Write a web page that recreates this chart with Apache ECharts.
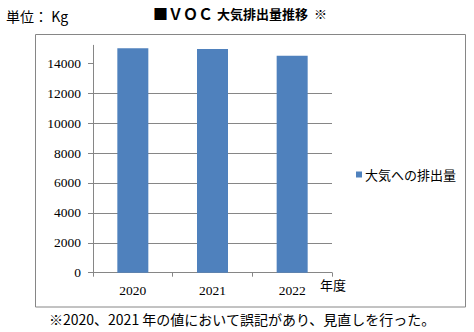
<!DOCTYPE html>
<html>
<head>
<meta charset="utf-8">
<script src="https://cdn.jsdelivr.net/npm/echarts@6/dist/echarts.min.js"></script>
<style>
html,body{margin:0;padding:0;background:#fff;}
#c{width:474px;height:332px;}
</style>
</head>
<body>
<div id="c"></div>
<script>
const categories = ['2020', '2021', '2022'];
const seriesName = '大気への排出量';
const values = [15000, 14950, 14500];
const yTickValues = [0, 2000, 4000, 6000, 8000, 10000, 12000, 14000];
const titleParts = ['■ＶＯＣ', '大気排出量推移', '※'];
const unitText = '単位： Kg';
const xAxisNameText = '年度';
const noteText = '※2020、2021 年の値において誤記があり、見直しを行った。';

const gray = '#868686';
const cjk = '"Noto Sans CJK JP", "Noto Sans", sans-serif';
const serif = '"Liberation Serif", serif';

const chart = echarts.init(document.getElementById('c'), null, {renderer: 'svg'});
chart.setOption({
  animation: false,
  backgroundColor: '#fff',
  grid: {left: 93, right: 142, top: 45.3, bottom: 59.3, containLabel: false},
  legend: {
    show: true,
    left: 351, top: 163,
    icon: 'rect', itemWidth: 6, itemHeight: 6, itemGap: 4,
    textStyle: {fontFamily: cjk, fontSize: 13, color: '#000', padding: [0, 0, 0, -2]},
    data: [seriesName]
  },
  xAxis: {
    type: 'category',
    data: categories,
    axisLine: {show: true, lineStyle: {color: gray, width: 1}},
    axisTick: {show: true, alignWithLabel: false, length: 4, lineStyle: {color: gray}},
    axisLabel: {fontFamily: serif, fontSize: 13.5, fontWeight: 'normal', color: '#000', margin: 11}
  },
  yAxis: {
    type: 'value',
    min: 0, max: 15200, interval: 2000,
    axisLine: {show: true, lineStyle: {color: gray, width: 1}},
    axisTick: {show: true, length: 5, lineStyle: {color: gray}, customValues: yTickValues},
    axisLabel: {
      fontFamily: serif, fontSize: 13.5, fontWeight: 'normal', color: '#000', margin: 12,
      customValues: yTickValues,
      formatter: function (v) { return String(v); }
    },
    splitLine: {show: true, showMaxLine: false, lineStyle: {color: gray, width: 1}}
  },
  series: [{
    name: seriesName,
    type: 'bar',
    data: values,
    barWidth: 31,
    itemStyle: {color: '#4F81BD'}
  }],
  graphic: [
    {type: 'rect', shape: {x: 35.5, y: 34.5, width: 430, height: 272.5}, style: {fill: 'none', stroke: gray, lineWidth: 1}, silent: true},
    {type: 'text', left: 153, top: 6, style: {
      text: '{a|' + titleParts[0] + '}{b|' + titleParts[1] + '}{c|' + titleParts[2] + '}',
      rich: {
        a: {fontFamily: cjk, fontSize: 15, fontWeight: 'bold', width: 64, fill: '#000'},
        b: {fontFamily: cjk, fontSize: 13, fontWeight: 'bold', width: 97, fill: '#000'},
        c: {fontFamily: cjk, fontSize: 13, fontWeight: 'normal', fill: '#000'}
      }
    }},
    {type: 'text', left: 6, top: 9, style: {text: unitText, font: '14px ' + cjk, fill: '#000'}},
    {type: 'text', left: 320, top: 278, style: {text: xAxisNameText, font: '13px ' + cjk, fill: '#000'}},
    {type: 'text', left: 49, top: 312, style: {text: noteText, font: '14px ' + cjk, fill: '#000'}}
  ]
});
</script>
</body>
</html>
